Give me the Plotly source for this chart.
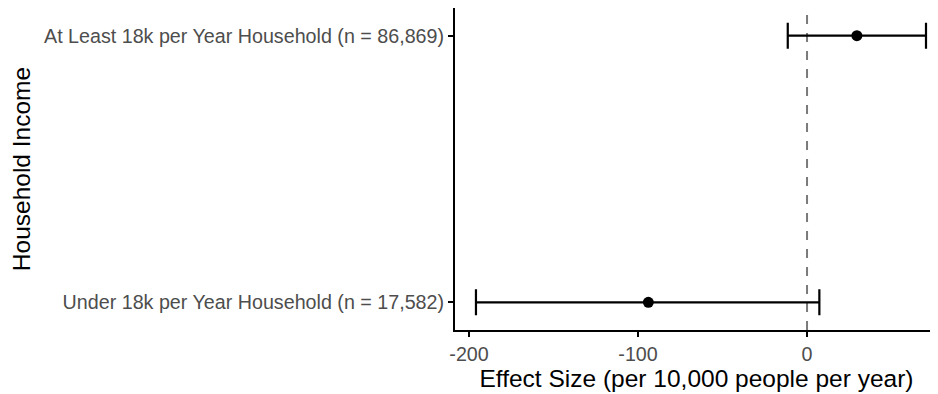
import plotly.graph_objects as go

categories = [
    "Under 18k per Year Household (n = 17,582)",
    "At Least 18k per Year Household (n = 86,869)",
]
estimates = [-93.9, 29.5]
ci_lower = [-195.9, -11.4]
ci_upper = [7.3, 70.4]
x_ticks = [-200, -100, 0]
reference_value = 0

err_plus = [u - e for u, e in zip(ci_upper, estimates)]
err_minus = [e - l for e, l in zip(estimates, ci_lower)]

fig = go.Figure()
fig.add_vline(x=reference_value, line=dict(color="#7a7a7a", width=2, dash="dash"), layer="below")
fig.add_trace(go.Scatter(
    x=estimates, y=categories, mode="markers",
    marker=dict(color="black", size=11),
    error_x=dict(type="data", symmetric=False, array=err_plus, arrayminus=err_minus,
                 color="black", thickness=2.2, width=13),
    showlegend=False,
))

font_family = "Liberation Sans, Arial, sans-serif"
fig.update_layout(
    width=930, height=386,
    margin=dict(l=447, r=0, t=0, b=64),
    paper_bgcolor="white", plot_bgcolor="white",
    font=dict(family=font_family),
    xaxis=dict(
        range=[-208.3, 77.5], tickvals=x_ticks, ticktext=[str(v) for v in x_ticks],
        showgrid=False, zeroline=False, showline=True, linecolor="black", linewidth=2,
        ticks="outside", ticklen=5, tickwidth=1.5, tickcolor="black",
        tickfont=dict(size=19.7, color="#4d4d4d"),
        title=dict(text="Effect Size (per 10,000 people per year)", font=dict(size=24.5, color="black"), standoff=0),
    ),
    yaxis=dict(
        type="category", categoryorder="array", categoryarray=categories,
        range=[-0.104, 1.104],
        showgrid=False, zeroline=False, showline=True, linecolor="black", linewidth=2,
        ticks="outside", ticklen=5, tickwidth=1.5, tickcolor="black",
        tickfont=dict(size=19.7, color="#4d4d4d"),
        title=dict(text="Household Income", font=dict(size=24.5, color="black"), standoff=10),
    ),
)
fig.write_html("out.html")
